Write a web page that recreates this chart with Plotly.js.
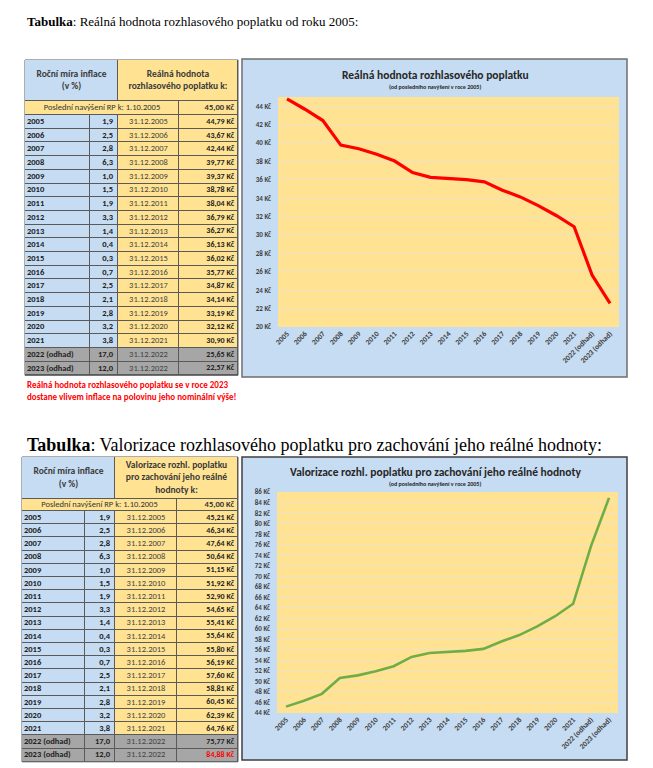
<!DOCTYPE html>
<html><head><meta charset="utf-8">
<script src="https://cdn.plot.ly/plotly-3.0.1.min.js"></script>
<style>html,body{margin:0;padding:0;background:#fff}#chart{width:653px;height:768px}</style>
</head><body><div id="chart"></div>
<script>
// ---- data ----
const years = ['2005','2006','2007','2008','2009','2010','2011','2012','2013','2014','2015','2016','2017','2018','2019','2020','2021','2022 (odhad)','2023 (odhad)'];
const inflation = ['1,9','2,5','2,8','6,3','1,0','1,5','1,9','3,3','1,4','0,4','0,3','0,7','2,5','2,1','2,8','3,2','3,8','17,0','12,0'];
const dates = ['31.12.2005','31.12.2006','31.12.2007','31.12.2008','31.12.2009','31.12.2010','31.12.2011','31.12.2012','31.12.2013','31.12.2014','31.12.2015','31.12.2016','31.12.2017','31.12.2018','31.12.2019','31.12.2020','31.12.2021','31.12.2022','31.12.2022'];
const realValue = [44.79,43.67,42.44,39.77,39.37,38.78,38.04,36.79,36.27,36.13,36.02,35.77,34.87,34.14,33.19,32.12,30.90,25.65,22.57];
const valorized = [45.21,46.34,47.64,50.64,51.15,51.92,52.90,54.65,55.41,55.64,55.80,56.19,57.60,58.81,60.45,62.39,64.76,75.77,84.88];
const lastRaiseLabel = 'Poslední navýšení RP k: 1.10.2005';
const lastRaiseValue = 45.00;

const pageTitleBold = 'Tabulka';
const pageTitle1Rest = ': Reálná hodnota rozhlasového poplatku od roku 2005:';
const pageTitle2Rest = ': Valorizace rozhlasového poplatku pro zachování jeho reálné hodnoty:';
const hdrInflation = 'Roční míra inflace<br>(v %)';
const hdrReal = 'Reálná hodnota<br>rozhlasového poplatku k:';
const hdrValor = 'Valorizace rozhl. poplatku<br>pro zachování jeho reálné<br>hodnoty k:';
const chart1Title = 'Reálná hodnota rozhlasového poplatku';
const chart2Title = 'Valorizace rozhl. poplatku pro zachování jeho reálné hodnoty';
const chartSubtitle = '(od posledního navýšení v roce 2005)';
const note = 'Reálná hodnota rozhlasového poplatku se v roce 2023<br>dostane vlivem inflace na polovinu jeho nominální výše!';

// ---- styling ----
const W = 653, H = 768;
const X = p => p / W, Y = p => 1 - p / H;
const FONT = 'Carlito, Roboto, "Liberation Sans", sans-serif';
const SERIF = '"Liberation Serif", "Times New Roman", serif';
const BLUE = '#c6dcf2', YELLOW = '#ffe393', GRAY = '#a6a6a6', BORDER = '#5a5a5a';
const CELLSCALE = [[0, BLUE], [0.5, YELLOW], [1, GRAY]];   // 0 = blue, 1 = yellow, 2 = grey
const fmt = v => v.toFixed(2).replace('.', ',') + ' Kč';
const b = s => '<b>' + s + '</b>';
const isEst = years.map(y => y.includes('odhad'));

const shapes = [];

// A table drawn as heatmap cells (fills, 1px gaps over a dark backing = borders) plus text traces.
function buildTable(n, c) {
  const xa = 'x' + n, ya = 'y' + n;
  const nRows = years.length;
  const bottom = c.dataTop + c.rowH * nRows;
  const rowEdges = years.map((_, i) => c.dataTop + i * c.rowH).concat([bottom]);
  const rowMid = years.map((_, i) => c.dataTop + (i + 0.5) * c.rowH);
  const heat = (x, y, z) => ({type: 'heatmap', x, y, z, xaxis: xa, yaxis: ya, colorscale: CELLSCALE,
    zmin: 0, zmax: 2, showscale: false, xgap: 1, ygap: 1, hoverinfo: 'skip'});
  const txt = (x, y, text, pos, font) => ({type: 'scatter', mode: 'text', x, y, text, textposition: pos,
    xaxis: xa, yaxis: ya, cliponaxis: false, hoverinfo: 'skip', textfont: Object.assign({family: FONT, size: 8, color: '#222'}, font || {})});
  const [c1, c2, c3] = c.colB;
  const hdrMid = (c.top + c.lastTop) / 2, lastMid = (c.lastTop + c.dataTop) / 2;
  const valColors = c.values.map((v, i) => (c.lastRed && i === nRows - 1) ? '#ff0000' : '#222');

  shapes.push({type: 'rect', xref: 'paper', yref: 'paper', layer: 'below',
    x0: X(c.x0), x1: X(c.x1), y0: Y(bottom), y1: Y(c.top), fillcolor: BORDER, line: {color: BORDER, width: 1}});

  const traces = [
    heat([c.x0, c.splitX, c.x1], [c.top, c.lastTop], [[0, 1]]),
    heat([c.x0, c3, c.x1], [c.lastTop, c.dataTop], [[1, 1]]),
    heat([c.x0, c1, c2, c3, c.x1], rowEdges, years.map((_, i) => isEst[i] ? [2, 2, 2, 2] : [0, 0, 1, 1])),
    txt([(c.x0 + c.splitX) / 2, (c.splitX + c.x1) / 2], [hdrMid, hdrMid], [b(hdrInflation), b(c.hdrText)],
      'middle center', {size: 9.5, color: '#3a3a3a'}),
    txt([(c.x0 + c3) / 2, c.x1 - 4], [lastMid, lastMid], [lastRaiseLabel, b(fmt(lastRaiseValue))],
      ['middle center', 'middle left'], {size: 8.5, color: '#333'}),
    txt(years.map(() => c.x0 + 2), rowMid, years.map(b), 'middle right', {size: 8.5}),
    txt(years.map(() => c2 - 5), rowMid, inflation.map(b), 'middle left', {size: 8.5}),
    txt(years.map(() => (c2 + c3) / 2), rowMid, dates, 'middle center', {size: 8.5, color: '#444'}),
    txt(years.map(() => c.x1 - 4), rowMid, c.values.map(v => b(fmt(v))), 'middle left', {size: 8, color: valColors})
  ];
  const axes = {};
  axes['xaxis' + n] = {domain: [X(c.x0), X(c.x1)], range: [c.x0, c.x1], visible: false, fixedrange: true, anchor: ya};
  axes['yaxis' + n] = {domain: [Y(bottom), Y(c.top)], range: [bottom, c.top], visible: false, fixedrange: true, anchor: xa};
  return {traces, axes};
}

const t1 = buildTable(3, {x0: 25, x1: 238, top: 60, lastTop: 101, dataTop: 115, rowH: 13.7,
  splitX: 118, colB: [90, 118, 179], hdrText: hdrReal, values: realValue, lastRed: false});
const t2 = buildTable(4, {x0: 22, x1: 238, top: 457, lastTop: 499, dataTop: 511, rowH: 13.2,
  splitX: 115, colB: [85, 115, 177], hdrText: hdrValor, values: valorized, lastRed: true});

const line1 = {type: 'scatter', mode: 'lines', x: years, y: realValue, xaxis: 'x', yaxis: 'y',
  line: {color: '#ff0000', width: 3.2}, hoverinfo: 'x+y'};
const line2 = {type: 'scatter', mode: 'lines', x: years, y: valorized, xaxis: 'x2', yaxis: 'y2',
  line: {color: '#70ad47', width: 2.6}, hoverinfo: 'x+y'};

const xCommon = {type: 'category', range: [-0.5, 18.5], tickangle: -45, showgrid: false, zeroline: false,
  showline: false, ticks: '', tickfont: {family: FONT, size: 7.5, color: '#404040', weight: 'bold'}, fixedrange: true};
const yCommon = {dtick: 2, ticksuffix: ' Kč', showgrid: true, gridcolor: '#eee2c6', gridwidth: 1, zeroline: false,
  showline: false, ticks: '', ticklabelstandoff: 6,
  tickfont: {family: FONT, size: 7, color: '#404040', weight: 'bold'}, fixedrange: true};

const box = (x0, y0, x1, y1, fill, lc, lw) => ({type: 'rect', xref: 'paper', yref: 'paper', layer: 'below',
  x0: X(x0), x1: X(x1), y0: Y(y1), y1: Y(y0), fillcolor: fill, line: {color: lc, width: lw}});

const ann = (x, y, text, size, opts) => Object.assign({xref: 'paper', yref: 'paper', x: X(x), y: Y(y), text,
  yanchor: 'middle', showarrow: false, font: {family: FONT, size, color: '#262626'}}, opts || {});

shapes.push(
  box(242, 59, 627, 377, BLUE, '#6e6e6e', 1.5),
  box(278, 97, 619, 327, YELLOW, 'rgba(0,0,0,0)', 0),
  box(242, 457, 627, 760, BLUE, '#3f3f3f', 1.5),
  box(277, 492, 618, 713, YELLOW, 'rgba(0,0,0,0)', 0)
);

const layout = Object.assign({
  width: W, height: H, margin: {l: 0, r: 0, t: 0, b: 0}, paper_bgcolor: '#fff', plot_bgcolor: 'rgba(0,0,0,0)',
  showlegend: false,
  xaxis: Object.assign({}, xCommon, {domain: [X(278), X(619)], anchor: 'y'}),
  yaxis: Object.assign({}, yCommon, {domain: [Y(327), Y(97)], range: [20, 45], tick0: 20, anchor: 'x'}),
  xaxis2: Object.assign({}, xCommon, {domain: [X(277), X(618)], anchor: 'y2'}),
  yaxis2: Object.assign({}, yCommon, {domain: [Y(713), Y(492)], range: [44, 86], tick0: 44, anchor: 'x2'}),
  shapes,
  annotations: [
    ann(25, 21, '<b>' + pageTitleBold + '</b>' + pageTitle1Rest, 13, {xanchor: 'left', font: {family: SERIF, size: 13, color: '#000'}}),
    ann(25, 445, '<b>' + pageTitleBold + '</b>' + pageTitle2Rest, 18, {xanchor: 'left', font: {family: SERIF, size: 18, color: '#000'}}),
    ann(435, 75, b(chart1Title), 11.5),
    ann(435, 87.5, b(chartSubtitle), 6),
    ann(435, 472, b(chart2Title), 11.5),
    ann(435, 484, b(chartSubtitle), 6),
    ann(25, 390, b(note), 9, {xanchor: 'left', align: 'left', font: {family: FONT, size: 9, color: '#ff0000'}})
  ]
}, t1.axes, t2.axes);

Plotly.newPlot('chart', [...t1.traces, ...t2.traces, line1, line2], layout, {displayModeBar: false});
</script>
</body></html>
